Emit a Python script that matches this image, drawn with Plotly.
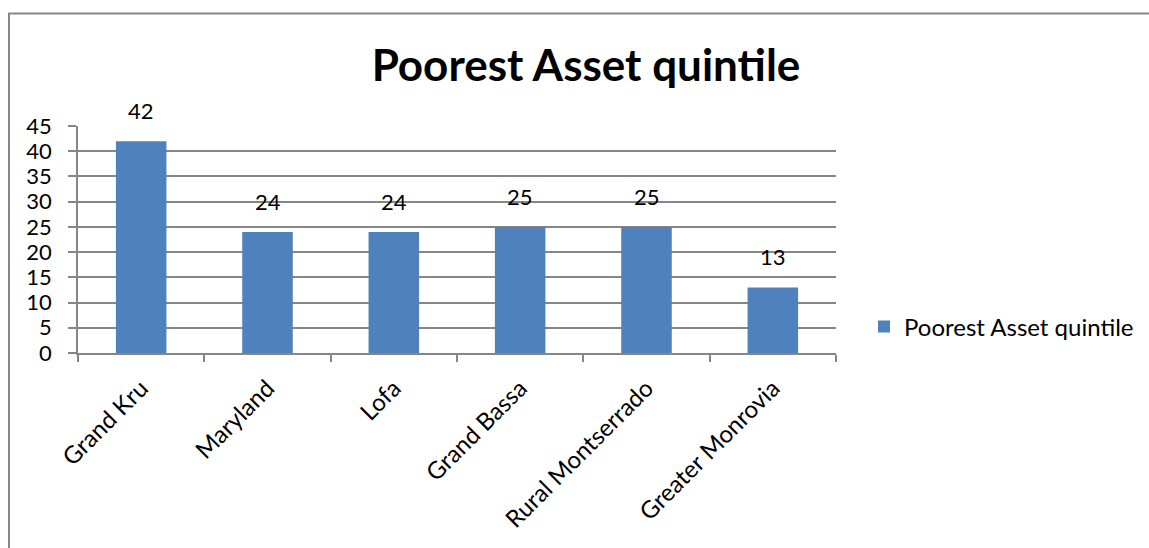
import plotly.graph_objects as go

# Poorest asset quintile share by region
regions = ["Grand Kru", "Maryland", "Lofa", "Grand Bassa", "Rural Montserrado", "Greater Monrovia"]
values = [42, 24, 24, 25, 25, 13]
series_name = "Poorest Asset quintile"
y_ticks = [0, 5, 10, 15, 20, 25, 30, 35, 40, 45]

W, H = 1149, 548
L, R, T, B = 78, 313, 126, 195
pw, ph = W - L - R, H - T - B

FONT = "Lato"
BAR = "#4F81BD"
GRID = "#868686"

fig = go.Figure()
fig.add_trace(go.Bar(
    x=regions, y=values, name=series_name,
    marker=dict(color=BAR, line=dict(width=0)),
    showlegend=True,
))

# value labels above each bar
for r, v in zip(regions, values):
    fig.add_annotation(x=r, y=v, text=str(v), showarrow=False,
                       yanchor="bottom", yshift=15,
                       font=dict(family=FONT, size=22, color="black"))

# chart frame (left and top edges)
def px_x(p):
    return (p - L) / pw

def px_y(p):
    return (H - B - p) / ph

fig.add_shape(type="line", xref="paper", yref="paper",
              x0=px_x(9), x1=px_x(9), y0=px_y(13.5), y1=px_y(560),
              line=dict(color="#878787", width=2))
fig.add_shape(type="line", xref="paper", yref="paper",
              x0=px_x(8), x1=px_x(1160), y0=px_y(13.5), y1=px_y(13.5),
              line=dict(color="#878787", width=2))

fig.update_layout(
    width=W, height=H,
    margin=dict(l=L, r=R, t=T, b=B, autoexpand=False),
    paper_bgcolor="white", plot_bgcolor="white",
    bargap=0.6,
    font=dict(family=FONT, size=22, color="black"),
    title=dict(text="<b>" + series_name + "</b>", x=586 / W, xanchor="center",
               y=1 - 66 / H, yanchor="middle",
               font=dict(family=FONT, size=44, color="black")),
    legend=dict(x=px_x(864), y=px_y(327), xanchor="left", yanchor="middle",
                font=dict(family=FONT, size=24, color="black"),
                bgcolor="rgba(0,0,0,0)", itemwidth=30),
    xaxis=dict(
        type="category", tickangle=-45, tickson="boundaries",
        ticks="outside", ticklen=7, tickcolor=GRID, tickwidth=1.5,
        ticklabelstandoff=10,
        showline=True, linecolor=GRID, linewidth=1.5,
        showgrid=False, tickfont=dict(family=FONT, size=24, color="black"),
    ),
    yaxis=dict(
        range=[0, 45], tickvals=y_ticks, ticks="outside", ticklen=8,
        tickcolor=GRID, tickwidth=1.5, ticklabelstandoff=12,
        showline=True, linecolor=GRID, linewidth=1.5,
        showgrid=True, gridcolor=GRID, gridwidth=1.5,
        zeroline=False, tickfont=dict(family=FONT, size=22, color="black"),
    ),
)

fig.write_html("out.html")
